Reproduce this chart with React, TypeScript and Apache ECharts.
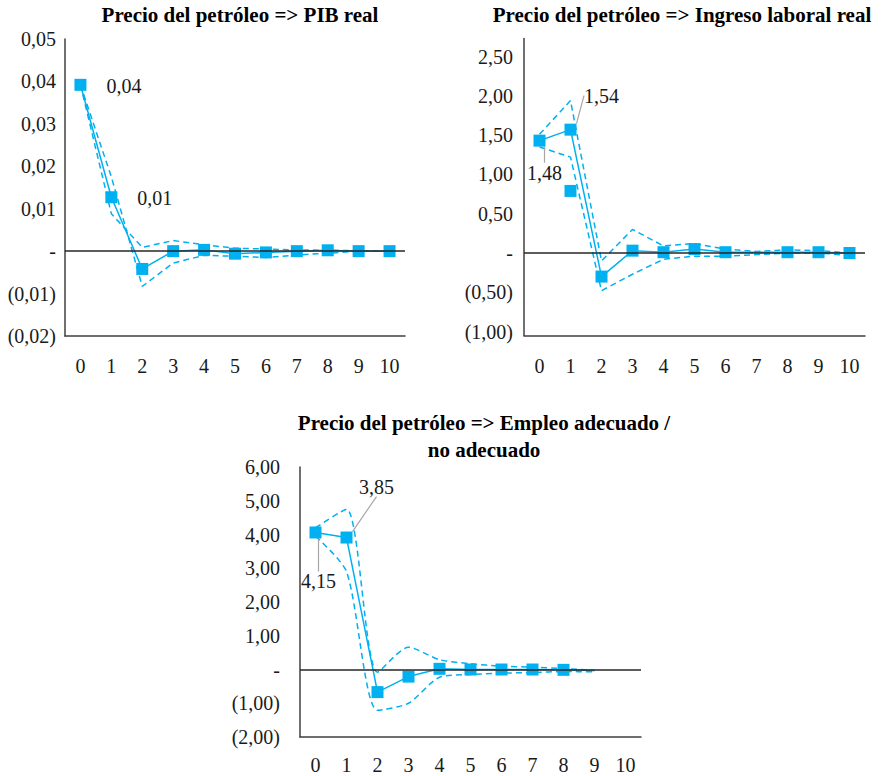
import React, { useEffect, useRef } from 'react';
import * as echarts from 'echarts';

// ---------- DATA ----------
const CATEGORIES = ['0', '1', '2', '3', '4', '5', '6', '7', '8', '9', '10'];

// Panel 1: Precio del petróleo => PIB real
const PIB_IRF = [0.0392, 0.0127, -0.0042, 0.0, 0.0003, -0.0006, -0.0003, 0.0, 0.0002, 0.0, 0.0];
const PIB_BAND_A = [0.0392, 0.0175, -0.0083, -0.0028, -0.001, -0.0012, -0.0015, -0.0009, -0.0005, 0.0, 0.0];
const PIB_BAND_B = [0.0392, 0.0088, 0.0009, 0.0025, 0.0015, 0.0007, 0.0005, 0.0003, 0.0002, 0.0001, 0.0];
const PIB_LABELS = ['0,04', '0,01', '', '', '', '', '', '', '', '', ''];
const PIB_TICKS = [-0.02, -0.01, 0, 0.01, 0.02, 0.03, 0.04, 0.05];

// Panel 2: Precio del petróleo => Ingreso laboral real
const ING_IRF = [1.43, 1.57, -0.3, 0.03, 0.01, 0.05, 0.01, 0.01, 0.01, 0.01, 0.0];
const ING_UPPER = [1.51, 1.94, -0.1, 0.3, 0.09, 0.12, 0.05, 0.02, 0.04, 0.03, 0.0];
const ING_LOWER = [1.35, 1.22, -0.48, -0.27, -0.08, -0.04, -0.04, -0.02, 0.0, 0.0, -0.03];
const ING_EXTRA = [null, 0.79, null, null, null, null, null, null, null, null, null];
const ING_LABELS = ['1,48', '1,54', '', '', '', '', '', '', '', '', ''];
const ING_NO_MARKER = [7];
const ING_TICKS = [-1, -0.5, 0, 0.5, 1, 1.5, 2, 2.5];

// Panel 3: Precio del petróleo => Empleo adecuado / no adecuado
const EMP_IRF = [4.06, 3.91, -0.67, -0.21, 0.02, 0.0, 0.0, 0.0, -0.01, -0.03, null];
const EMP_UPPER = [4.2, 4.75, -0.08, 0.66, 0.29, 0.17, 0.1, 0.07, 0.03, -0.03, null];
const EMP_LOWER = [3.95, 2.9, -1.21, -1.0, -0.23, -0.15, -0.11, -0.09, -0.06, -0.07, null];
const EMP_LABELS = ['4,15', '3,85', '', '', '', '', '', '', '', '', ''];
const EMP_NO_MARKER = [9];
const EMP_TICKS = [-2, -1, 0, 1, 2, 3, 4, 5, 6];

const TITLES = [
  'Precio del petróleo => PIB real',
  'Precio del petróleo => Ingreso laboral real',
  'Precio del petróleo => Empleo adecuado /',
  'no adecuado',
];

// ---------- STYLE ----------
const BLUE = '#00B0F0';
const FONT = "'Times New Roman', 'Liberation Serif', serif";
const TEXT = '#1a1a1a';
const AXIS = '#404040';

const fmtTick = (dec: number) => (v: number) => {
  if (Math.abs(v) < 1e-9) return '-';
  const s = Math.abs(v).toFixed(dec).replace('.', ',');
  return v < 0 ? `(${s})` : s;
};

function buildMain(values: (number | null)[], labels: string[], positions: Record<number, string>, noMarker: number[]) {
  return values.map((v, i) => ({
    value: v,
    symbol: noMarker.includes(i) ? 'none' : 'rect',
    label: labels[i]
      ? { show: true, formatter: labels[i], position: positions[i] || 'top' }
      : { show: false },
  }));
}

export default function App() {
  const ref = useRef<HTMLDivElement>(null);

  useEffect(() => {
    if (!ref.current) return;
    const chart = echarts.init(ref.current, undefined, { renderer: 'svg' });

    const grids = [
      { left: 65, top: 39, width: 340, height: 297 },
      { left: 524, top: 38.5, width: 341, height: 297 },
      { left: 300, top: 467, width: 341, height: 270 },
    ];

    const xAxes = grids.map((_, i) => ({
      type: 'category',
      gridIndex: i,
      data: CATEGORIES,
      boundaryGap: true,
      axisLine: { onZero: false, lineStyle: { color: AXIS, width: 1.5 } },
      axisTick: { show: false },
      axisLabel: { margin: i === 2 ? 18 : 20, fontSize: 20, fontFamily: FONT, color: TEXT },
      splitLine: { show: false },
    }));

    const yCommon = {
      type: 'value',
      splitLine: { show: false },
      axisTick: { show: false },
      axisLine: { show: true, lineStyle: { color: AXIS, width: 1.5 } },
    };

    const yAxes = [
      {
        ...yCommon,
        gridIndex: 0,
        min: -0.02,
        max: 0.05,
        interval: 0.01,
        axisLabel: { margin: 9, fontSize: 20, fontFamily: FONT, color: TEXT, formatter: fmtTick(2), customValues: PIB_TICKS },
      },
      {
        ...yCommon,
        gridIndex: 1,
        min: -1.05,
        max: 2.73,
        axisLabel: { margin: 11, fontSize: 20, fontFamily: FONT, color: TEXT, formatter: fmtTick(2), customValues: ING_TICKS },
      },
      {
        ...yCommon,
        gridIndex: 2,
        min: -2,
        max: 6,
        interval: 1,
        axisLabel: { margin: 20, fontSize: 20, fontFamily: FONT, color: TEXT, formatter: fmtTick(2), customValues: EMP_TICKS },
      },
    ];

    const zeroLine = {
      silent: true,
      symbol: 'none',
      label: { show: false },
      lineStyle: { color: '#262626', type: 'solid', width: 1.5 },
      data: [{ yAxis: 0 }],
    };

    const band = (idx: number, data: (number | null)[], withZero: boolean, smooth: number | boolean = false) => ({
      type: 'line',
      xAxisIndex: idx,
      yAxisIndex: idx,
      data,
      symbol: 'none',
      smooth,
      z: 2,
      lineStyle: { color: BLUE, width: 1.5, type: [6, 4] },
      itemStyle: { color: BLUE },
      ...(withZero ? { markLine: zeroLine } : {}),
    });

    const labelStyle = { fontSize: 20, fontFamily: FONT, color: TEXT };
    const leader = { show: true, lineStyle: { color: '#A6A6A6', width: 1.2 } };

    const ingOffsets: Record<number, { dx: number; dy: number }> = {
      0: { dx: 5, dy: 11 },
      1: { dx: 31, dy: -13 },
    };
    const empOffsets: Record<number, { dx: number; dy: number }> = {
      0: { dx: 3, dy: 28 },
      1: { dx: 30, dy: -30 },
    };

    const main = (idx: number, data: any[], extra: any = {}) => ({
      type: 'line',
      xAxisIndex: idx,
      yAxisIndex: idx,
      data,
      symbolSize: 12,
      z: 3,
      lineStyle: { color: BLUE, width: 1.5 },
      itemStyle: { color: BLUE, opacity: 1 },
      label: { ...labelStyle },
      ...extra,
    });

    const series: any[] = [
      band(0, PIB_BAND_A, true),
      band(0, PIB_BAND_B, false),
      main(0, buildMain(PIB_IRF, PIB_LABELS, { 0: 'right', 1: 'right' }, []), {
        label: { ...labelStyle, distance: 20, offset: [0, 1] },
      }),
      band(1, ING_UPPER, true),
      band(1, ING_LOWER, false),
      main(1, buildMain(ING_IRF, ING_LABELS, { 0: 'bottom', 1: 'top' }, ING_NO_MARKER), {
        labelLine: leader,
        labelLayout: (p: any) => ingOffsets[p.dataIndex] || {},
      }),
      {
        type: 'scatter',
        xAxisIndex: 1,
        yAxisIndex: 1,
        data: ING_EXTRA,
        symbol: 'rect',
        symbolSize: 12,
        z: 3,
        itemStyle: { color: BLUE, opacity: 1 },
      },
      band(2, EMP_UPPER, true, 0.25),
      band(2, EMP_LOWER, false, 0.25),
      main(2, buildMain(EMP_IRF, EMP_LABELS, { 0: 'bottom', 1: 'top' }, EMP_NO_MARKER), {
        labelLine: leader,
        labelLayout: (p: any) => empOffsets[p.dataIndex] || {},
      }),
    ];

    const titleStyle = (text: string) => ({
      text,
      font: `bold 21px ${FONT}`,
      fill: '#000',
      textAlign: 'center',
      align: 'center',
      textVerticalAlign: 'middle',
      verticalAlign: 'middle',
    });

    chart.setOption({
      animation: false,
      backgroundColor: '#ffffff',
      grid: grids,
      xAxis: xAxes,
      yAxis: yAxes,
      series,
      graphic: [
        { type: 'text', x: 240, y: 15, style: titleStyle(TITLES[0]) },
        { type: 'text', x: 682, y: 15, style: titleStyle(TITLES[1]) },
        { type: 'text', x: 484, y: 423, style: titleStyle(TITLES[2]) },
        { type: 'text', x: 484, y: 450, style: titleStyle(TITLES[3]) },
      ],
    });

    return () => chart.dispose();
  }, []);

  return <div ref={ref} style={{ position: 'absolute', left: 0, top: 0, width: 882, height: 776 }} />;
}
